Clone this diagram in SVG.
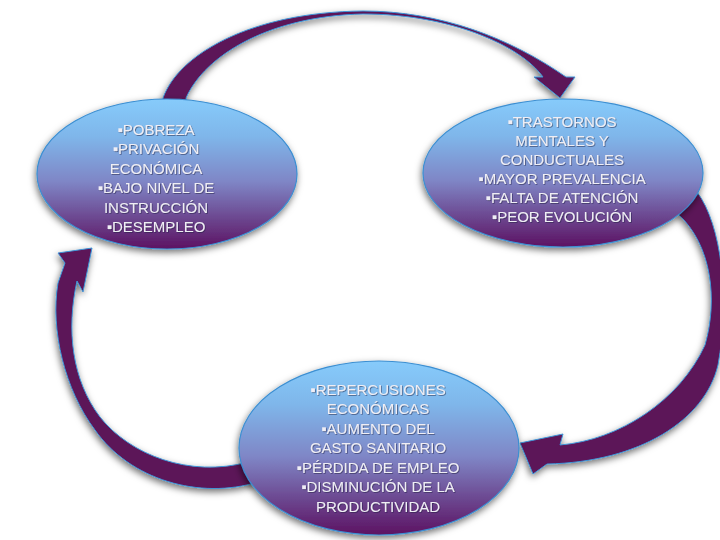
<svg xmlns="http://www.w3.org/2000/svg" width="720" height="540" viewBox="0 0 720 540">
<defs>
  <linearGradient id="nodeGrad" x1="0" y1="0" x2="0" y2="1">
    <stop offset="0" stop-color="#86cbfb"/>
    <stop offset="0.25" stop-color="#7fb6ea"/>
    <stop offset="0.55" stop-color="#7f86c6"/>
    <stop offset="1" stop-color="#5c1262"/>
  </linearGradient>
  <filter id="shadow" x="-20%" y="-20%" width="140%" height="150%">
    <feGaussianBlur in="SourceAlpha" stdDeviation="3.5"/>
    <feOffset dx="-1" dy="3" result="b"/>
    <feFlood flood-color="#000" flood-opacity="0.55"/>
    <feComposite in2="b" operator="in"/>
    <feMerge><feMergeNode/><feMergeNode in="SourceGraphic"/></feMerge>
  </filter>
  <filter id="txtShadow" x="-10%" y="-10%" width="120%" height="130%">
    <feDropShadow dx="0.8" dy="0.8" stdDeviation="0.6" flood-color="#202040" flood-opacity="0.6"/>
  </filter>
</defs>
<style>
  .node { fill: url(#nodeGrad); stroke: #3c8fd2; stroke-width: 1.2; }
  .arrow { fill: #5c1258; stroke: #3f95d6; stroke-width: 1; stroke-linejoin: miter; }
  .lbl { font-family: "Liberation Sans", Arial, sans-serif; font-size: 15px; fill: #efeef5; text-anchor: middle; }
</style>
<rect width="720" height="540" fill="#ffffff"/>

<g id="connectors" filter="url(#shadow)">
  <path id="arrow-top" class="arrow" d="M162,112 L163,98 C178,55 250,12 363,11 C440,11 510,38 566,77 L575,77 L560,98 L534,77 L543,77 C520,45 450,14 363,14 C270,16 205,55 186,98 L187,112 Z"/>
  <path id="arrow-right" class="arrow" d="M697,192 C722,225 730,300 718,365 C705,420 640,462 547,464 L533,474 L520,443 L563,434 L560,445 C620,440 680,400 705,345 C718,300 712,245 678,214 Z"/>
  <path id="arrow-left" class="arrow" d="M258,482 C200,500 130,480 95,430 C65,390 50,330 58,283 L65,263 L58,253 L92,248 L83,292 L77,281 C66,330 72,380 100,417 C130,455 190,478 248,462 Z"/>
</g>

<g id="node-left">
  <ellipse class="node" cx="167" cy="174" rx="130" ry="75" filter="url(#shadow)"/>
  <g class="lbl" filter="url(#txtShadow)">
    <text x="156" y="135">▪POBREZA</text>
    <text x="156" y="154">▪PRIVACIÓN</text>
    <text x="156" y="174">ECONÓMICA</text>
    <text x="156" y="193">▪BAJO NIVEL DE</text>
    <text x="156" y="213">INSTRUCCIÓN</text>
    <text x="156" y="232">▪DESEMPLEO</text>
  </g>
</g>

<g id="node-right">
  <ellipse class="node" cx="563" cy="173" rx="140" ry="74" filter="url(#shadow)"/>
  <g class="lbl" filter="url(#txtShadow)">
    <text x="562" y="127">▪TRASTORNOS</text>
    <text x="562" y="146">MENTALES Y</text>
    <text x="562" y="165">CONDUCTUALES</text>
    <text x="562" y="184">▪MAYOR PREVALENCIA</text>
    <text x="562" y="203">▪FALTA DE ATENCIÓN</text>
    <text x="562" y="222">▪PEOR EVOLUCIÓN</text>
  </g>
</g>

<g id="node-bottom">
  <ellipse class="node" cx="379" cy="448" rx="140" ry="87" filter="url(#shadow)"/>
  <g class="lbl" filter="url(#txtShadow)">
    <text x="378" y="395">▪REPERCUSIONES</text>
    <text x="378" y="414">ECONÓMICAS</text>
    <text x="378" y="434">▪AUMENTO DEL</text>
    <text x="378" y="453">GASTO SANITARIO</text>
    <text x="378" y="473">▪PÉRDIDA DE EMPLEO</text>
    <text x="378" y="492">▪DISMINUCIÓN DE LA</text>
    <text x="378" y="512">PRODUCTIVIDAD</text>
  </g>
</g>
</svg>
